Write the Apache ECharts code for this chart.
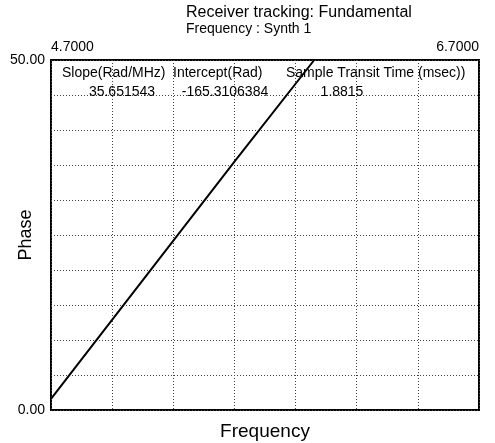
<!DOCTYPE html>
<html>
<head>
<meta charset="utf-8">
<script src="https://cdn.jsdelivr.net/npm/echarts@6/dist/echarts.min.js"></script>
<style>
html,body{margin:0;padding:0;background:#fff;}
#c{width:495px;height:443px;}
</style>
</head>
<body>
<div id="c"></div>
<script>
// ---- data ----
const titleLine1 = 'Receiver tracking: Fundamental';
const titleLine2 = 'Frequency : Synth 1';
const xName = 'Frequency';
const yName = 'Phase';
const xMin = 4.7, xMax = 6.7;           // frequency axis range
const yMin = 0, yMax = 50;              // phase axis range
const xTickLabels = [4.7, 6.7];
const yTickLabels = [0, 50];
const xGridCount = 7;                   // vertical grid divisions
const yGridStep = 5;                    // horizontal grid step
const freq  = [4.70, 5.56, 5.93];
const phase = [1.6, 35.6, 50.0];
const headers = ['Slope(Rad/MHz)', 'Intercept(Rad)', 'Sample Transit Time (msec))'];
const results = ['35.651543', '-165.3106384', '1.8815'];

const FONT = "'Liberation Sans', Arial, sans-serif";
const chart = echarts.init(document.getElementById('c'), null, {renderer: 'canvas'});

const gridLine = {show: true, lineStyle: {color: '#444', type: [1, 2], width: 1}};

const option = {
  backgroundColor: '#fff',
  animation: false,
  title: {
    text: titleLine1,
    subtext: titleLine2,
    left: 181, top: 0, itemGap: 1,
    textStyle: {fontFamily: FONT, fontSize: 16, fontWeight: 'normal', color: '#000'},
    subtextStyle: {fontFamily: FONT, fontSize: 14, color: '#000'}
  },
  grid: {left: 51, right: 16, top: 60, bottom: 33, containLabel: false, outerBoundsMode: 'none',
         show: true, borderColor: '#000', borderWidth: 2, backgroundColor: 'transparent'},
  xAxis: [
    {
      type: 'value', position: 'top', min: xMin, max: xMax,
      axisLine: {show: false}, axisTick: {show: false}, splitLine: {show: false},
      axisLabel: {
        customValues: xTickLabels, margin: 6,
        alignMinLabel: 'left', alignMaxLabel: 'right',
        formatter: v => v.toFixed(4),
        fontFamily: FONT, fontSize: 14, color: '#000'
      }
    },
    {
      type: 'value', position: 'bottom', min: 0, max: xGridCount, interval: 1,
      axisLine: {show: false}, axisTick: {show: false}, axisLabel: {show: false},
      splitLine: gridLine,
      name: xName, nameLocation: 'middle', nameGap: 12, nameMoveOverlap: false,
      nameTextStyle: {fontFamily: FONT, fontSize: 19, color: '#000'}
    }
  ],
  yAxis: {
    type: 'value', min: yMin, max: yMax, interval: yGridStep,
    axisLine: {show: false}, axisTick: {show: false},
    splitLine: gridLine,
    axisLabel: {
      margin: 6,
      formatter: v => (yTickLabels.indexOf(v) >= 0 ? v.toFixed(2) : ''),
      fontFamily: FONT, fontSize: 14, color: '#000'
    },
    name: yName, nameLocation: 'middle', nameGap: 16, nameRotate: 90, nameMoveOverlap: false,
    nameTextStyle: {fontFamily: FONT, fontSize: 18, color: '#000'}
  },
  series: [{
    type: 'line', xAxisIndex: 0, yAxisIndex: 0,
    data: freq.map((f, i) => [f, phase[i]]),
    showSymbol: false, clip: true,
    lineStyle: {color: '#000', width: 2}
  }],
  graphic: [
    {type: 'text', left: 62, top: 66, z: 10, style: {text: headers[0], font: '14px ' + FONT, fill: '#000'}},
    {type: 'text', left: 173, top: 66, z: 10, style: {text: headers[1], font: '14px ' + FONT, fill: '#000'}},
    {type: 'text', left: 286, top: 66, z: 10, style: {text: headers[2], font: '14px ' + FONT, fill: '#000'}},
    {type: 'text', x: 122, y: 92, z: 10, style: {text: results[0], font: '14px ' + FONT, fill: '#000', align: 'center', verticalAlign: 'middle'}},
    {type: 'text', x: 225, y: 92, z: 10, style: {text: results[1], font: '14px ' + FONT, fill: '#000', align: 'center', verticalAlign: 'middle'}},
    {type: 'text', x: 342, y: 92, z: 10, style: {text: results[2], font: '14px ' + FONT, fill: '#000', align: 'center', verticalAlign: 'middle'}}
  ]
};
chart.setOption(option);
</script>
</body>
</html>
